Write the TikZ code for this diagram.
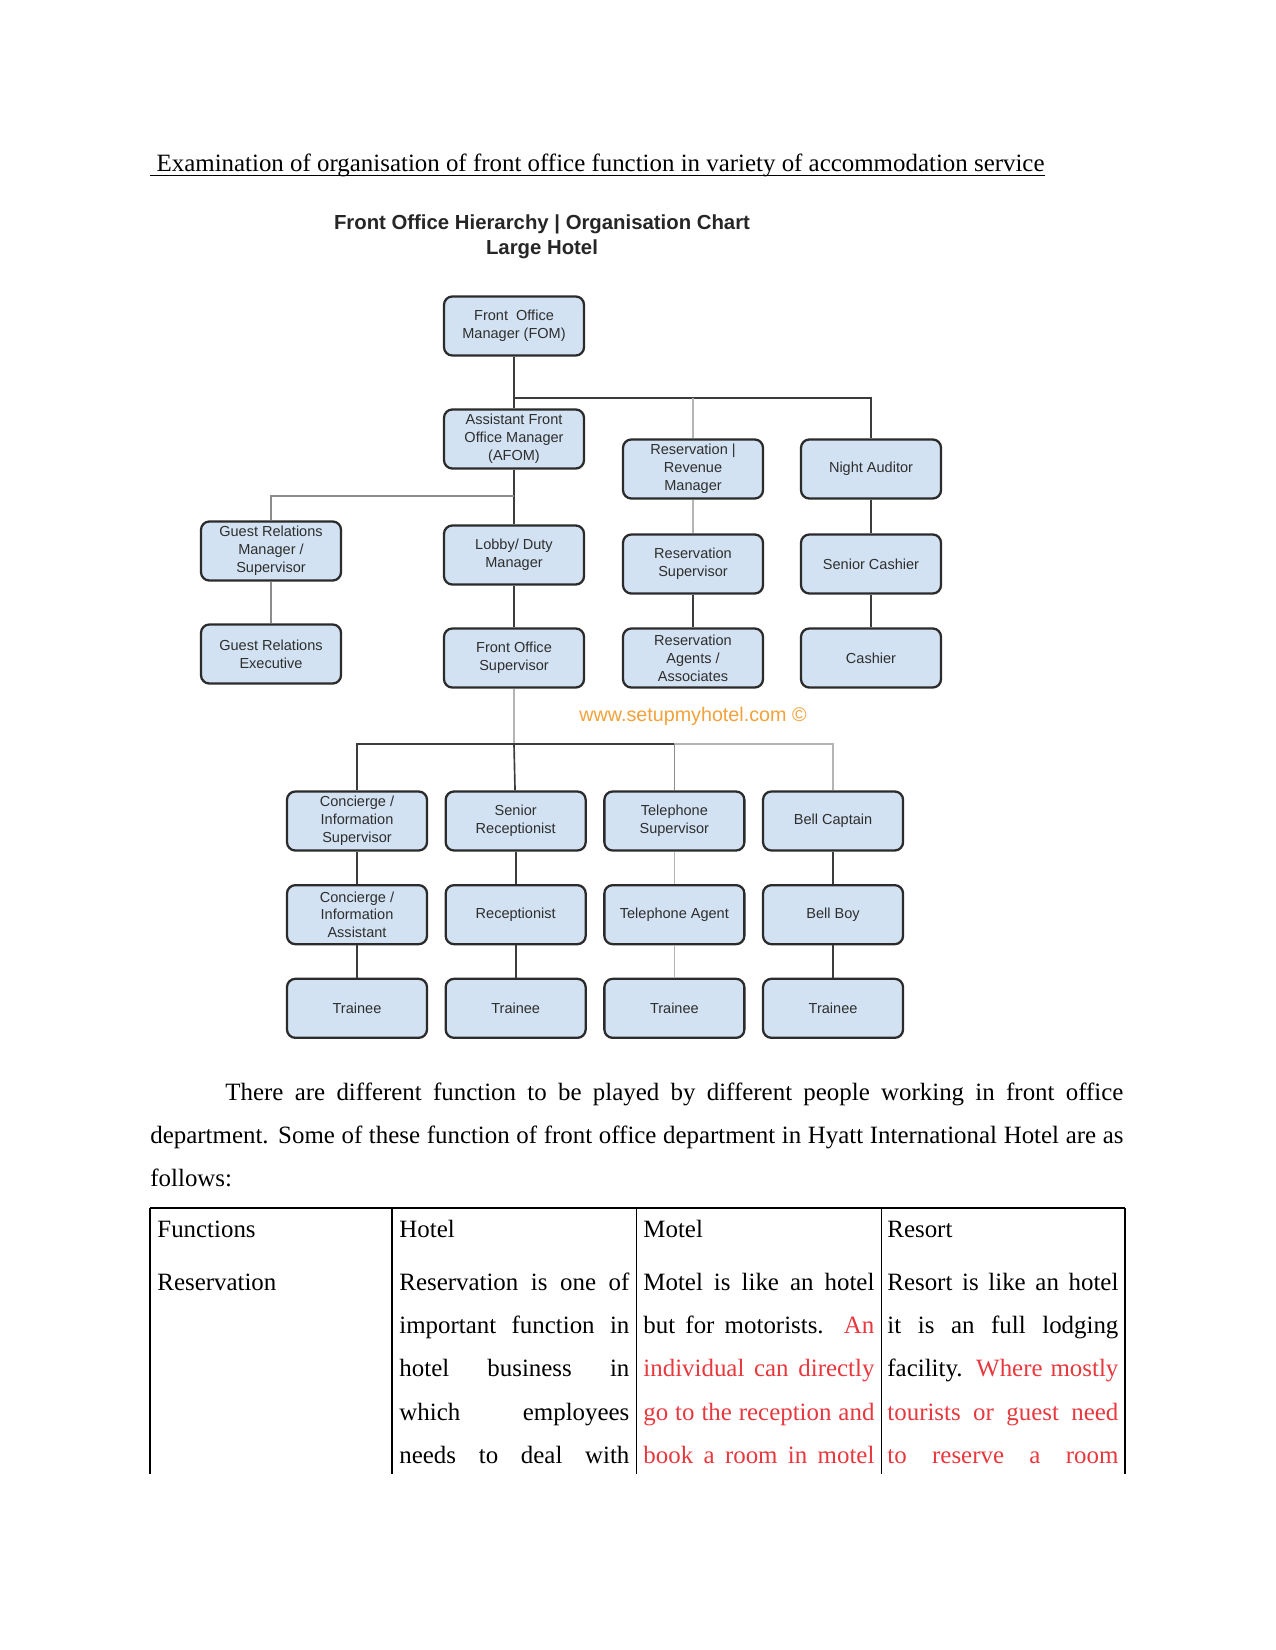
\documentclass[tikz,border=0pt]{standalone}
\usepackage{fontspec}
\setmainfont{Liberation Serif}
\newfontfamily\chartfont{Liberation Sans}
\usepackage{xcolor}
\definecolor{cBox}{HTML}{D2E2F2}
\definecolor{cEdge}{HTML}{2B2B2B}
\definecolor{cText}{HTML}{2E2E2E}
\definecolor{cLink}{HTML}{3C3C3C}
\definecolor{cLinkGray}{HTML}{8C8C8C}
\definecolor{cLinkLight}{HTML}{B4B4B4}
\definecolor{cWeb}{HTML}{F2A23A}
\definecolor{cRed}{HTML}{E8383D}
\usepackage{tikz}
\usetikzlibrary{positioning}
\newlength{\pxu}\setlength{\pxu}{0.4818pt}
\newcommand{\jline}[2]{\makebox[#1\pxu][s]{#2}}
\tikzset{
  org-box/.style={draw=cEdge,line width=1.1pt,rounded corners=4pt,fill=cBox,
    minimum width=140\pxu,minimum height=59\pxu,align=center,inner sep=1pt,
    font=\chartfont\fontsize{7}{8.6}\selectfont,text=cText},
  link/.style={draw=cLink,line width=0.8pt},
  link-gray/.style={draw=cLinkGray,line width=0.8pt},
  link-light/.style={draw=cLinkLight,line width=0.8pt},
  body-text/.style={anchor=base west,inner sep=0pt,font=\fontsize{12}{14}\selectfont},
  chart-title/.style={anchor=base,inner sep=0pt,
    font=\chartfont\bfseries\fontsize{9.8}{12}\selectfont,text=black!85},
  table-rule/.style={draw=black,line width=0.6pt},
}

\begin{document}
\begin{tikzpicture}[x=0.4818pt,y=-0.4818pt,node distance=15.6pt and 7.9pt]
  \fill[white] (0,0) rectangle (1275,1650);
  \useasboundingbox (0,0) rectangle (1275,1650);

  % heading
  \node[body-text] (head) at (150,172)
    {\ Examination of organisation of front office function in variety of accommodation service};
  \draw[line width=0.6pt] ([yshift=-3.6\pxu]head.base west) -- ([yshift=-3.6\pxu]head.base east);

  % chart
  \node[chart-title] (ttl1) at (542,230) {Front Office Hierarchy | Organisation Chart};
  \node[chart-title] (ttl2) at (542,255) {Large Hotel};

  \node[org-box] (fom) at (514,326) {Front\ \ Office\\Manager (FOM)};
  \node[org-box] (afom) at (514,439) {Assistant Front\\Office Manager\\(AFOM)};
  \node[org-box] (rrm) at (693,469) {Reservation |\\Revenue\\Manager};
  \node[org-box] (na) at (871,469) {Night Auditor};
  \node[org-box] (grm) at (271,551) {Guest Relations\\Manager /\\Supervisor};
  \node[org-box] (lobby) at (514,555) {Lobby/ Duty\\Manager};
  \node[org-box] (rsup) at (693,564) {Reservation\\Supervisor};
  \node[org-box] (scash) at (871,564) {Senior Cashier};
  \node[org-box] (gre) at (271,654) {Guest Relations\\Executive};
  \node[org-box] (fos) at (514,658) {Front Office\\Supervisor};
  \node[org-box] (ragt) at (693,658) {Reservation\\Agents /\\Associates};
  \node[org-box] (cash) at (871,658) {Cashier};

  \node[font=\chartfont\fontsize{9.5}{11}\selectfont,text=cWeb] (web) at (693,716)
    {www.setupmyhotel.com ©};

  \node[org-box] (cis) at (357,821) {Concierge /\\Information\\Supervisor};
  \node[org-box,right=of cis] (srec) {Senior\\Receptionist};
  \node[org-box,right=of srec] (tsup) {Telephone\\Supervisor};
  \node[org-box,right=of tsup] (bcap) {Bell Captain};
  \node[org-box,below=of cis] (cia) {Concierge /\\Information\\Assistant};
  \node[org-box,below=of srec] (rec) {Receptionist};
  \node[org-box,below=of tsup] (tagt) {Telephone Agent};
  \node[org-box,below=of bcap] (bboy) {Bell Boy};
  \node[org-box,below=of cia] (tr1) {Trainee};
  \node[org-box,below=of rec] (tr2) {Trainee};
  \node[org-box,below=of tagt] (tr3) {Trainee};
  \node[org-box,below=of bboy] (tr4) {Trainee};

  \coordinate (j1) at (514,398);
  \coordinate (j2) at (514,496);
  \coordinate (j3) at (514,744);

  \draw[link] (fom) -- (afom);
  \draw[link] (j1) -| (na);
  \draw[link-light] (rrm.north |- j1) -- (rrm);
  \draw[link] (afom) -- (lobby);
  \draw[link-gray] (j2) -| (grm);
  \draw[link-gray] (grm) -- (gre);
  \draw[link] (lobby) -- (fos);
  \draw[link-light] (rrm) -- (rsup);
  \draw[link] (rsup) -- (ragt);
  \draw[link] (na) -- (scash);
  \draw[link] (scash) -- (cash);

  \draw[link-light] (fos) -- (j3);
  \draw[link] (cis) |- (tsup.north |- j3);
  \draw[link-light] (tsup.north |- j3) -| (bcap);
  \draw[link] (j3) -- (srec);
  \draw[link-gray] (tsup.north |- j3) -- (tsup);
  \draw[link] (cis) -- (cia);
  \draw[link] (cia) -- (tr1);
  \draw[link] (srec) -- (rec);
  \draw[link] (rec) -- (tr2);
  \draw[link-light] (tsup) -- (tagt);
  \draw[link-light] (tagt) -- (tr3);
  \draw[link] (bcap) -- (bboy);
  \draw[link] (bboy) -- (tr4);

  % text under chart
  \node[body-text] (p1) at (225,1100)
    {\jline{898}{There are different function to be played by different people working in front office}};
  \node[body-text] (p2) at (150,1143)
    {\jline{973}{department. Some of these function of front office department in Hyatt International Hotel are as}};
  \node[body-text] (p3) at (150,1186) {follows:};

  % table
  \draw[table-rule] (150,1208) -- (1125,1208);
  \draw[table-rule] (150,1208) -- (150,1474);
  \draw[table-rule] (392,1208) -- (392,1474);
  \draw[table-rule] (636.5,1208) -- (636.5,1474);
  \draw[table-rule] (881.5,1208) -- (881.5,1474);
  \draw[table-rule] (1125,1208) -- (1125,1474);

  \node[body-text] (hFun) at (157,1237) {Functions};
  \node[body-text] (hHot) at (399,1237) {Hotel};
  \node[body-text] (hMot) at (643,1237) {Motel};
  \node[body-text] (hRes) at (887,1237) {Resort};

  \node[body-text] (fRes) at (157,1290) {Reservation};

  \node[body-text] (h1) at (399,1290) {\jline{230}{Reservation is one of}};
  \node[body-text] (h2) at (399,1333) {\jline{230}{important function in}};
  \node[body-text] (h3) at (399,1376) {\jline{230}{hotel business in}};
  \node[body-text] (h4) at (399,1420) {\jline{230}{which employees}};
  \node[body-text] (h5) at (399,1463) {\jline{230}{needs to deal with}};

  \node[body-text] (m1) at (643,1290) {\jline{231}{Motel is like an hotel}};
  \node[body-text] (m2) at (643,1333) {\jline{231}{but for motorists. \textcolor{cRed}{An}}};
  \node[body-text,text=cRed] (m3) at (643,1376) {\jline{231}{individual can directly}};
  \node[body-text,text=cRed] (m4) at (643,1420) {\jline{231}{go to the reception and}};
  \node[body-text,text=cRed] (m5) at (643,1463) {\jline{231}{book a room in motel}};

  \node[body-text] (r1) at (887,1290) {\jline{231}{Resort is like an hotel}};
  \node[body-text] (r2) at (887,1333) {\jline{231}{it is an full lodging}};
  \node[body-text] (r3) at (887,1376) {\jline{231}{facility. \textcolor{cRed}{Where mostly}}};
  \node[body-text,text=cRed] (r4) at (887,1420) {\jline{231}{tourists or guest need}};
  \node[body-text,text=cRed] (r5) at (887,1463) {\jline{231}{to reserve a room}};
\end{tikzpicture}
\end{document}
